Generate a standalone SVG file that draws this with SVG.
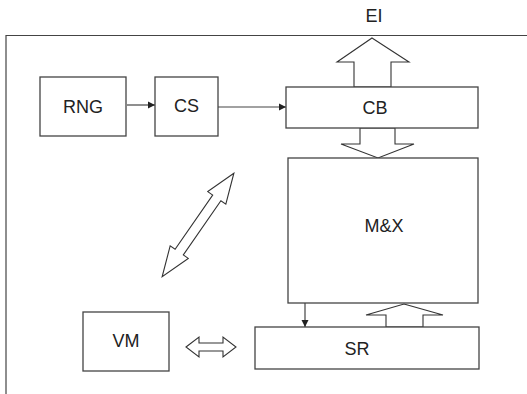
<svg xmlns="http://www.w3.org/2000/svg" width="527" height="394" viewBox="0 0 527 394">
<style>
.box{fill:#fff;stroke:#444;stroke-width:1.3}
.ln{fill:none;stroke:#444;stroke-width:1.2}
.fat{fill:#fff;stroke:#333;stroke-width:1.1;stroke-linejoin:miter}
text{font-family:"Liberation Sans",Arial,sans-serif;font-size:18px;fill:#222;text-anchor:middle}
</style>
<defs>
<marker id="ah" markerWidth="8" markerHeight="8" refX="7" refY="4" orient="auto" markerUnits="userSpaceOnUse">
<path d="M0,0.5 L7,4 L0,7.5 Z" fill="#222"/>
</marker>
</defs>
<rect width="527" height="394" fill="#fff"/>
<g id="frame">
<path class="ln" d="M6,394 V35.5 H527" stroke-width="1.4"/>
</g>
<g id="EI-label"><text x="374" y="22">EI</text></g>
<g id="connectors">
<line class="ln" x1="127" y1="105" x2="155" y2="105" marker-end="url(#ah)"/>
<line class="ln" x1="218" y1="107" x2="286" y2="107" marker-end="url(#ah)"/>
<line class="ln" x1="305" y1="303" x2="305" y2="327" marker-end="url(#ah)"/>
<polygon class="fat" points="372,38 409,62 391,62 391,87 354,87 354,62 337,62"/>
<polygon class="fat" points="360,128 395,128 395,144 414,144 378,158 341,144 360,144"/>
<polygon class="fat" points="404,304 443,315 423,315 423,327 386,327 386,315 366,315"/>
<polygon class="fat" points="186,347 199,337 199,343 223,343 223,337 236,347 223,357 223,351 199,351 199,357"/>
<polygon class="fat" transform="translate(198,225) rotate(-55.3)" points="63,0 33,-11 33,-5 -33,-5 -33,-11 -63,0 -33,11 -33,5 33,5 33,11"/>
</g>
<g id="RNG"><rect class="box" x="40" y="77" width="86" height="59"/><text x="83" y="113">RNG</text></g>
<g id="CS"><rect class="box" x="155" y="77" width="63" height="59"/><text x="186.5" y="112">CS</text></g>
<g id="CB"><rect class="box" x="286" y="87" width="192" height="41"/><text x="375" y="114">CB</text></g>
<g id="MX"><rect class="box" x="288" y="158" width="190" height="145"/><text x="384" y="232">M&amp;X</text></g>
<g id="SR"><rect class="box" x="255" y="327" width="224" height="42"/><text x="357" y="355">SR</text></g>
<g id="VM"><rect class="box" x="83" y="312" width="86" height="59"/><text x="126" y="347">VM</text></g>
</svg>
